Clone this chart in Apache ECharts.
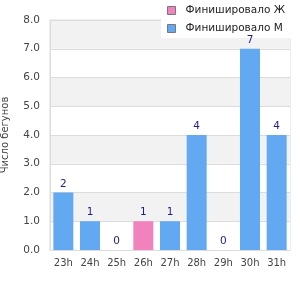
<!DOCTYPE html>
<html><head><meta charset="utf-8">
<script src="https://cdn.jsdelivr.net/npm/echarts@6/dist/echarts.min.js"></script>
<style>html,body{margin:0;padding:0;background:#fff}#c{width:300px;height:300px}</style>
</head><body><div id="c"></div>
<script>
var categories = ['23h','24h','25h','26h','27h','28h','29h','30h','31h'];
var womenValues = ['-','-','-',1,'-','-','-','-','-'];
var menValues = [2,1,0,'-',1,4,0,7,4];
var yTicks = [0,1,2,3,4,5,6,7,8];
var seriesNames = ['Финишировало Ж','Финишировало М'];

var chart = echarts.init(document.getElementById('c'), null, {renderer:'canvas'});
var font = 'DejaVu Sans';
var lbl = {show:true, position:'top', color:'#1c1c8c', fontSize:10.5, fontFamily:font, distance:3};
chart.setOption({
  animation:false,
  textStyle:{fontFamily:font},
  grid:{left:50, right:10, top:20, bottom:50, show:true, borderColor:'#dcdcdc', borderWidth:1, outerBoundsMode:'none', containLabel:false},
  legend:{
    orient:'vertical', right:0, top:0, itemWidth:8, itemHeight:8, itemGap:7, icon:'rect',
    backgroundColor:'#fff', padding:[5,15,4,6], z:4,
    textStyle:{fontSize:10.5, color:'#222', fontFamily:font, padding:[0,0,0,5]},
    data:seriesNames.map(function(n){return {name:n, itemStyle:{borderColor:'#777', borderWidth:1}};})
  },
  xAxis:{type:'category', data:categories,
    axisLine:{lineStyle:{color:'#dcdcdc'}}, axisTick:{show:false},
    axisLabel:{color:'#444', fontSize:10, fontFamily:font, margin:8, interval:0}},
  yAxis:{type:'value', min:yTicks[0], max:yTicks[yTicks.length-1], interval:1,
    name:'Число бегунов', nameLocation:'middle', nameGap:40, nameRotate:90,
    nameTextStyle:{color:'#444', fontSize:10, fontFamily:font},
    axisLine:{show:true, lineStyle:{color:'#dcdcdc'}}, axisTick:{show:false},
    axisLabel:{color:'#444', fontSize:10.5, fontFamily:font, margin:10, formatter:function(v){return v.toFixed(1);}},
    splitLine:{lineStyle:{color:'#dcdcdc'}},
    splitArea:{show:true, areaStyle:{color:['#ffffff','#f2f2f2']}}},
  series:[
    {name:seriesNames[0], type:'bar', stack:'t', data:womenValues, barWidth:20, z:6,
     itemStyle:{color:'#f282bd'}, label:lbl},
    {name:seriesNames[1], type:'bar', stack:'t', data:menValues, barWidth:20, z:6,
     itemStyle:{color:'#62a9f2'}, label:lbl}
  ]
});
</script></body></html>
